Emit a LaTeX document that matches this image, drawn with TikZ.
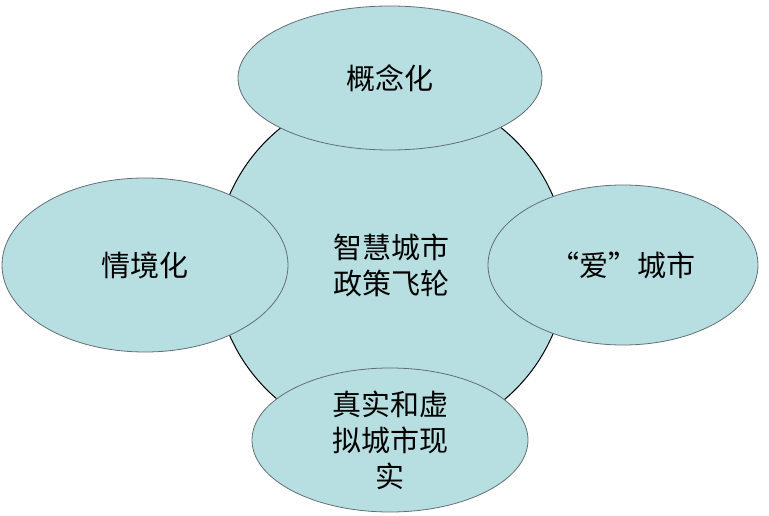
\documentclass[tikz,border=0pt]{standalone}
\usepackage{fontspec}
\newfontfamily\cjk{Noto Sans CJK SC}
\begin{document}
\begin{tikzpicture}[x=1pt,y=-1pt,
  el/.style={draw=gray!70!cyan!60!black,fill=fillc,line width=0.8pt},
  lab/.style={font=\cjk\fontsize{29}{36}\selectfont,align=center}]
\definecolor{fillc}{HTML}{B7DEE0}
\useasboundingbox (0,0) rectangle (769,516);
\fill[fillc,draw=black,line width=1pt] (391,265) circle (176);
\draw[el] (390,78) ellipse (152 and 72);
\draw[el] (145,265) ellipse (143 and 87);
\draw[el] (623,265) ellipse (135 and 80);
\draw[el] (390,440) ellipse (138 and 72);
\node[lab] (c) at (391,265) {智慧城市\\政策飞轮};
\node[lab] (t) at (390,78) {概念化};
\node[lab] (l) at (145,265) {情境化};
\node[lab] (r) at (623,265) {“爱”城市};
\node[lab] (b) at (390,440) {真实和虚\\拟城市现\\实};
\end{tikzpicture}
\end{document}
